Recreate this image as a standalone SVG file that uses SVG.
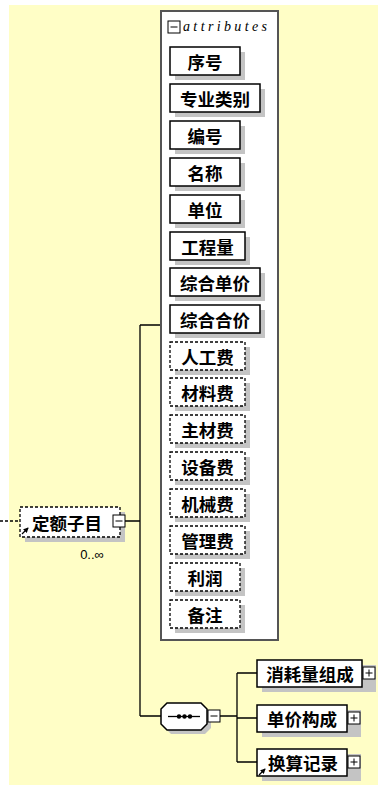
<svg xmlns="http://www.w3.org/2000/svg" width="378" height="785" viewBox="0 0 378 785">
<style>
.bg{fill:#FFFEC6}
.box{fill:#fff;stroke:#000;stroke-width:1.5}
.dbox{fill:#fff;stroke:#000;stroke-width:1.3;stroke-dasharray:3 2}
.sh{fill:#C4C4C4}
.t{font-family:"Noto Sans CJK SC","Noto Sans",sans-serif;font-weight:bold;font-size:17.5px;text-anchor:middle;dominant-baseline:central;fill:#000}
.ln{stroke:#000;stroke-width:1.3;fill:none}
.pm{fill:#fff;stroke:#000;stroke-width:1}
.outer{fill:#fff;stroke:#555;stroke-width:2}
</style>
<defs>
<marker id="ah" viewBox="0 0 6 6" refX="5" refY="3" markerWidth="4" markerHeight="4" orient="auto"><path d="M0,0 L6,3 L0,6 z" fill="#000"/></marker>
<g id="minus"><rect class="pm" x="0" y="0" width="12" height="12"/><path d="M2.5,6 H9.5" stroke="#000" stroke-width="1"/></g>
<g id="plus"><rect class="pm" x="0" y="0" width="12" height="12"/><path d="M2.5,6 H9.5 M6,2.5 V9.5" stroke="#000" stroke-width="1"/></g>
</defs>
<rect class="bg" x="9" y="5" width="369" height="780"/>

<g id="connectors">
<path class="ln" d="M0,521 H20" stroke-dasharray="3 2"/>
<path class="ln" d="M125,521 H140 M140,325 V716 M140,325 H161 M140,716 H161 M220,716 H237 M237,673 V762 M237,673 H257 M237,718 H257 M237,762 H257"/>
</g>

<g id="attributes">
<rect class="outer" x="161" y="11" width="117" height="629"/>
<use href="#minus" x="168" y="21"/>
<text x="183" y="31" font-family="Liberation Serif,serif" font-style="italic" font-size="14" textLength="84" lengthAdjust="spacing">attributes</text>
</g>

<g id="attr-xuhao"><rect class="sh" x="175" y="52" width="70" height="28"/><rect class="box" x="170" y="47" width="70" height="28"/><text class="t" x="205" y="61">序号</text></g>
<g id="attr-zhuanye"><rect class="sh" x="175" y="89" width="90" height="28"/><rect class="box" x="170" y="84" width="90" height="28"/><text class="t" x="215" y="98">专业类别</text></g>
<g id="attr-bianhao"><rect class="sh" x="175" y="126" width="70" height="28"/><rect class="box" x="170" y="121" width="70" height="28"/><text class="t" x="205" y="135">编号</text></g>
<g id="attr-mingcheng"><rect class="sh" x="175" y="163" width="70" height="28"/><rect class="box" x="170" y="158" width="70" height="28"/><text class="t" x="205" y="172">名称</text></g>
<g id="attr-danwei"><rect class="sh" x="175" y="200" width="70" height="28"/><rect class="box" x="170" y="195" width="70" height="28"/><text class="t" x="205" y="209">单位</text></g>
<g id="attr-gongchengliang"><rect class="sh" x="175" y="237" width="75" height="28"/><rect class="box" x="170" y="232" width="75" height="28"/><text class="t" x="207.5" y="246">工程量</text></g>
<g id="attr-zhdj"><rect class="sh" x="175" y="273" width="90" height="28"/><rect class="box" x="170" y="268" width="90" height="28"/><text class="t" x="215" y="282">综合单价</text></g>
<g id="attr-zhhj"><rect class="sh" x="175" y="310" width="90" height="28"/><rect class="box" x="170" y="305" width="90" height="28"/><text class="t" x="215" y="319">综合合价</text></g>
<g id="attr-rgf"><rect class="sh" x="175" y="347" width="75" height="28"/><rect class="dbox" x="170" y="342" width="75" height="28"/><text class="t" x="207.5" y="356">人工费</text></g>
<g id="attr-clf"><rect class="sh" x="175" y="383" width="75" height="28"/><rect class="dbox" x="170" y="378" width="75" height="28"/><text class="t" x="207.5" y="392">材料费</text></g>
<g id="attr-zcf"><rect class="sh" x="175" y="420" width="75" height="28"/><rect class="dbox" x="170" y="415" width="75" height="28"/><text class="t" x="207.5" y="429">主材费</text></g>
<g id="attr-sbf"><rect class="sh" x="175" y="457" width="75" height="28"/><rect class="dbox" x="170" y="452" width="75" height="28"/><text class="t" x="207.5" y="466">设备费</text></g>
<g id="attr-jxf"><rect class="sh" x="175" y="494" width="75" height="28"/><rect class="dbox" x="170" y="489" width="75" height="28"/><text class="t" x="207.5" y="503">机械费</text></g>
<g id="attr-glf"><rect class="sh" x="175" y="531" width="75" height="28"/><rect class="dbox" x="170" y="526" width="75" height="28"/><text class="t" x="207.5" y="540">管理费</text></g>
<g id="attr-lr"><rect class="sh" x="175" y="568" width="70" height="28"/><rect class="dbox" x="170" y="563" width="70" height="28"/><text class="t" x="205" y="577">利润</text></g>
<g id="attr-bz"><rect class="sh" x="175" y="605" width="70" height="28"/><rect class="dbox" x="170" y="600" width="70" height="28"/><text class="t" x="205" y="614">备注</text></g>

<g id="node-dingezimu">
<rect class="sh" x="25" y="512" width="100" height="30"/>
<rect class="dbox" x="20" y="507" width="100" height="30"/>
<text class="t" x="67" y="522">定额子目</text>
<use href="#minus" x="113" y="515"/>
<path class="ln" d="M22,534 L28,528" marker-end="url(#ah)"/>
<text x="92" y="559" font-family="Liberation Sans,sans-serif" font-size="13" text-anchor="middle">0..∞</text>
</g>

<g id="node-sequence">
<polygon class="sh" points="171,707 205,707 211,713 211,728 205,734 171,734 165,728 165,713"/>
<polygon class="box" points="167,703 201,703 207,709 207,724 201,730 167,730 161,724 161,709"/>
<path d="M168,716.5 H200" stroke="#000" stroke-width="1.3"/>
<circle cx="179" cy="716.5" r="2.2"/><circle cx="184.5" cy="716.5" r="2.2"/><circle cx="190" cy="716.5" r="2.2"/>
<use href="#minus" x="208" y="710"/>
</g>

<g id="node-xiaohaoliang">
<rect class="sh" x="262" y="665" width="114" height="27"/>
<rect class="box" x="257" y="660" width="105" height="27"/>
<text class="t" x="310" y="673.5">消耗量组成</text>
<use href="#plus" x="363" y="667"/>
</g>
<g id="node-danjiagoucheng">
<rect class="sh" x="262" y="710" width="99" height="27"/>
<rect class="box" x="257" y="705" width="90" height="27"/>
<text class="t" x="302" y="718.5">单价构成</text>
<use href="#plus" x="348" y="712"/>
</g>
<g id="node-huansuanjilu">
<rect class="sh" x="262" y="754" width="99" height="27"/>
<rect class="box" x="257" y="749" width="90" height="27"/>
<text class="t" x="303" y="762.5">换算记录</text>
<use href="#plus" x="348" y="756"/>
<path class="ln" d="M259,775 L265,769" marker-end="url(#ah)"/>
</g>
</svg>
